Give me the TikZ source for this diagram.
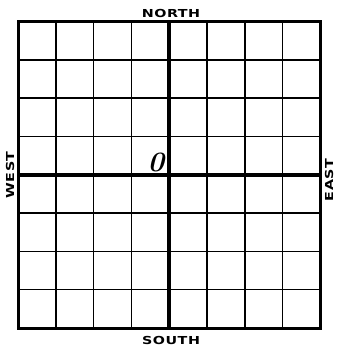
\documentclass[tikz,border=0pt]{standalone}
\usepackage{fontspec}
\newfontfamily\dirfont{DejaVu Sans}[FakeStretch=1.3,LetterSpace=5]
\usetikzlibrary{calc, positioning}

\tikzset{
  thinline/.style={black, line width=1.5pt},
  axisline/.style={black, line width=3.6pt},
  frameline/.style={black, line width=3pt},
  dirlabel/.style={font=\dirfont\bfseries\fontsize{11}{11}\selectfont, inner sep=0pt},
}

\begin{document}
\begin{tikzpicture}[x=37.8pt,y=38.3pt]
\useasboundingbox (-18pt,-21pt) rectangle (319pt,328pt);
% grid
\foreach \i in {1,2,3,5,6,7} {
  \draw[thinline] (\i,0) -- (\i,8);
  \draw[thinline] (0,\i) -- (8,\i);
}
% axes
\draw[axisline] (4,0) -- (4,8);
\draw[axisline] (0,4) -- (8,4);
% frame
\draw[frameline] (0,0) rectangle (8,8);
% labels
\node[dirlabel] (north) at (153pt,315pt) {NORTH};
\node[dirlabel] (south) at (153pt,-12pt) {SOUTH};
\node[dirlabel,rotate=90] (west) at (-8pt,153pt) {WEST};
\node[dirlabel,rotate=90] (east) at (311pt,148pt) {EAST};
\node[font=\bfseries\itshape\fontsize{28}{28}\selectfont, inner sep=0pt] (origin) at (138pt,166pt) {0};
\end{tikzpicture}
\end{document}
